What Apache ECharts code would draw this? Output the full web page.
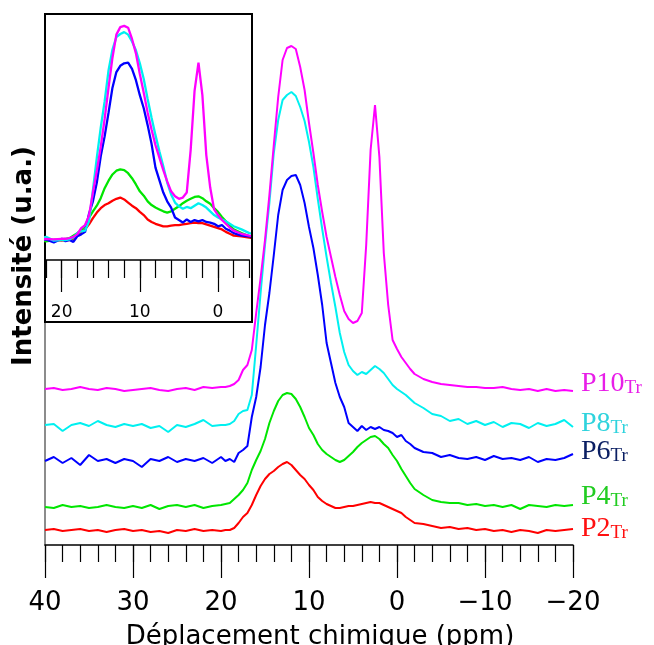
<!DOCTYPE html>
<html><head><meta charset="utf-8">
<script src="https://cdn.jsdelivr.net/npm/echarts@6/dist/echarts.min.js"></script>
<style>html,body{margin:0;padding:0;background:#fff}#c{width:654px;height:645px}</style>
</head><body><div id="c"></div>
<script>
// chemical shift grid (ppm)
const ppm = [40,39,38,37,36,35,34,33,32,31,30,29,28,27,26,25,24,23,22,21,20,
  19.5,19,18.5,18,17.5,17,16.5,16,15.5,15,14.5,14,13.5,13,12.5,12,11.5,11,10.5,10,9.5,9,8.5,8,7.5,7,6.5,6,5.5,5,4.5,4,3.5,3,2.5,2,1.5,1,0.5,0,-0.5,-1,-1.5,-2,
  -3,-4,-5,-6,-7,-8,-9,-10,-11,-12,-13,-14,-15,-16,-17,-18,-19,-20];

// displayed (stacked) intensities, arbitrary units
const p10 = [156,157,155,156,158,156,155,157,156,154,155,156,157,155,154,156,157,155,158,157,158,
  158,159,161,165,175,180,195,232,267,305,350,400,448,485,497,499,496,478,455,422,392,360,333,308,288,268,250,234,226,222,224,232,300,395,440,388,292,240,205,196,188,182,176,171,
  166,163,161,160,159,158,158,157,157,158,156,155,156,154,156,154,155,154];
const p8 = [120,121,114,120,122,119,124,120,118,121,119,121,117,119,113,120,118,121,125,119,120,
  120,121,124,131,134,135,150,200,252,300,342,392,425,445,450,453,449,438,424,403,378,346,316,288,262,238,212,193,180,174,170,173,171,175,179,176,172,166,160,156,153,150,146,142,
  137,131,129,124,126,121,124,120,123,118,122,121,117,122,119,121,125,118];
const p6 = [84,88,82,87,80,90,84,86,82,86,84,78,86,84,88,83,86,84,87,82,88,
  84,86,83,92,95,99,128,148,178,220,252,290,330,355,365,369,370,360,342,318,297,270,240,202,182,162,148,138,122,118,114,119,115,118,116,118,115,114,112,108,110,104,101,97,
  93,92,88,90,87,86,88,85,89,86,87,85,88,83,86,85,87,91];
const p4 = [38,37,40,38,39,37,38,40,38,37,39,37,40,36,39,40,38,40,37,39,40,
  41,42,46,50,55,62,75,85,94,106,122,134,144,150,152,151,146,138,128,117,110,101,95,91,88,85,83,85,89,93,98,102,105,108,109,106,101,97,90,84,76,69,62,56,
  50,45,43,42,42,40,41,39,40,38,40,36,40,39,38,40,39,40];
const p2 = [15,16,14,15,16,14,15,13,15,16,14,15,13,14,12,15,14,16,14,15,14,
  15,15,17,22,28,32,40,50,59,66,71,74,78,81,83,80,75,70,66,60,55,48,44,41,39,37,37,38,39,39,40,41,42,43,42,42,40,38,36,34,32,28,25,22,
  21,19,17,18,16,17,15,16,14,15,13,15,14,12,15,14,15,16];

const names = ['P2', 'P4', 'P6', 'P8', 'P10'];
const spectra = [p2, p4, p6, p8, p10];
const offsets = [15, 39, 86, 120, 156];   // vertical stacking offsets
const lineColors = ['#ff0000', '#00e600', '#0000ff', '#00f0f0', '#ff00ff'];
const labelColors = ['#ff1010', '#22cc22', '#0b1f63', '#2fd3dd', '#e81ee8'];
const labelBaseY = [543, 511, 466, 438, 398];
const mainTicks = [40, 30, 20, 10, 0, -10, -20];
const insetTicks = [20, 10, 0];

const SANS = 'DejaVu Sans';
const SERIF = 'Liberation Serif';
const fmt = v => String(v).replace('-', '\u2212');

const series = [];
spectra.forEach((arr, s) => {
  series.push({
    type: 'line', name: names[s], xAxisIndex: 0, yAxisIndex: 0,
    data: ppm.map((x, k) => [x, arr[k]]),
    showSymbol: false, symbol: 'none', z: 2, silent: true,
    lineStyle: { color: lineColors[s], width: 2 }
  });
});
spectra.forEach((arr, s) => {
  series.push({
    type: 'line', name: names[s] + '_inset', xAxisIndex: 2, yAxisIndex: 1,
    data: ppm.map((x, k) => [x, arr[k] - offsets[s]]),
    showSymbol: false, symbol: 'none', z: 6, silent: true,
    lineStyle: { color: lineColors[s], width: 2.3 }
  });
});

const graphics = [
  { type: 'rect', z: 4, shape: { x: 45, y: 14, width: 207, height: 308 },
    style: { fill: '#fff', stroke: '#000', lineWidth: 2 } },
  { type: 'text', x: 24, y: 256, rotation: Math.PI / 2, z: 10,
    style: { text: 'Intensité (u.a.)', fontFamily: SANS, fontSize: 26, fontWeight: 'bold',
      fill: '#000', align: 'center', verticalAlign: 'middle' } }
];
names.forEach((n, s) => {
  graphics.push({
    type: 'text', x: 581, y: labelBaseY[s], z: 10,
    style: {
      text: '{a|' + n + '}{b|Tr}', verticalAlign: 'bottom', align: 'left',
      rich: {
        a: { fontFamily: SERIF, fontSize: 28, fill: labelColors[s], color: labelColors[s], verticalAlign: 'bottom' },
        b: { fontFamily: SERIF, fontSize: 19, fill: labelColors[s], color: labelColors[s], verticalAlign: 'bottom' }
      }
    }
  });
});

const option = {
  animation: false,
  backgroundColor: '#fff',
  grid: [
    { left: 45, right: 81, top: 14, bottom: 100, outerBoundsMode: 'none', containLabel: false },
    { left: 46, right: 404.7, top: 14, bottom: 385, outerBoundsMode: 'none', containLabel: false }
  ],
  xAxis: [
    { gridIndex: 0, type: 'value', inverse: true, min: -20, max: 40, interval: 2, position: 'bottom',
      axisLine: { onZero: false, lineStyle: { color: '#000', width: 1.5 } },
      axisTick: { length: 17, lineStyle: { color: '#000', width: 1.2 } },
      axisLabel: { show: false }, splitLine: { show: false } },
    { gridIndex: 0, type: 'value', inverse: true, min: -20, max: 40, interval: 10, position: 'bottom',
      axisLine: { show: false, onZero: false },
      axisTick: { length: 33, lineStyle: { color: '#000', width: 1.2 } },
      axisLabel: { margin: 45, fontSize: 26, fontFamily: SANS, color: '#000', formatter: fmt },
      splitLine: { show: false },
      name: 'Déplacement chimique (ppm)', nameLocation: 'middle', nameGap: 79,
      nameTextStyle: { fontSize: 26, fontFamily: SANS, color: '#000', padding: [0, 0, 0, 22] } },
    { gridIndex: 1, type: 'value', inverse: true, min: -4, max: 22, interval: 2, position: 'bottom', z: 7,
      axisLine: { onZero: false, lineStyle: { color: '#000', width: 1.5 } },
      axisTick: { length: 18, lineStyle: { color: '#000', width: 1.2 } },
      axisLabel: { show: false }, splitLine: { show: false } },
    { gridIndex: 1, type: 'value', inverse: true, min: -4, max: 22, position: 'bottom', z: 7,
      axisLine: { show: false, onZero: false },
      axisTick: { length: 32, customValues: insetTicks, lineStyle: { color: '#000', width: 1.2 } },
      axisLabel: { customValues: insetTicks, margin: 44, fontSize: 17, fontFamily: SANS, color: '#000', formatter: fmt },
      splitLine: { show: false } }
  ],
  yAxis: [
    { gridIndex: 0, type: 'value', min: 0, max: 531,
      axisLine: { show: true, onZero: false, lineStyle: { color: '#666', width: 1.5 } },
      axisTick: { show: false }, axisLabel: { show: false }, splitLine: { show: false } },
    { gridIndex: 1, type: 'value', min: -32, max: 362, show: false, splitLine: { show: false } }
  ],
  graphic: graphics,
  series: series
};
const chart = echarts.init(document.getElementById('c'), null, { renderer: 'canvas' });
chart.setOption(option);
</script></body></html>
